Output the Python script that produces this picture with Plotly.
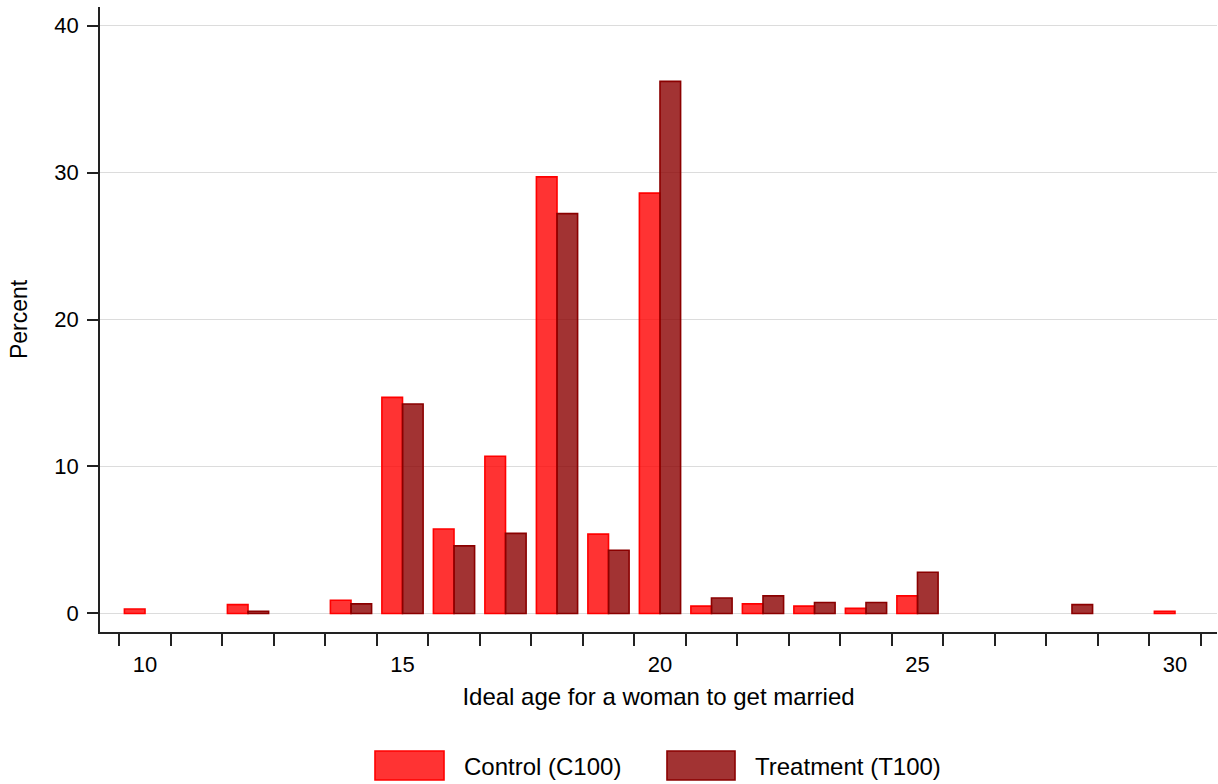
import plotly.graph_objects as go

ages = list(range(10, 31))
control = [0.3, 0, 0.6, 0, 0.9, 14.7, 5.75, 10.7, 29.7, 5.4, 28.6,
           0.5, 0.65, 0.5, 0.35, 1.2, 0, 0, 0, 0, 0.15]
treatment = [0, 0, 0.15, 0, 0.65, 14.25, 4.6, 5.45, 27.2, 4.3, 36.2,
             1.05, 1.2, 0.75, 0.75, 2.8, 0, 0, 0.6, 0, 0]
x_tick_labels = [10, 15, 20, 25, 30]
y_tick_labels = [0, 10, 20, 30, 40]
series_names = ["Control (C100)", "Treatment (T100)"]

FONT = "Liberation Sans, Arial, sans-serif"
C_FILL = "rgba(255,0,0,0.8)"
C_LINE = "#ff0000"
T_FILL = "rgba(139,0,0,0.8)"
T_LINE = "#8b0000"
AX = "#222222"

W, H = 1218, 784
L, R, T, B = 100, 1, 7, 152
PW, PH = W - L - R, H - T - B


def nonzero(vals):
    # empty bins are not drawn
    return [v if v else None for v in vals]


fig = go.Figure()
fig.add_trace(go.Bar(x=ages, y=nonzero(control), name=series_names[0], width=0.4, offset=-0.4,
                     marker=dict(color=C_FILL, line=dict(color=C_LINE, width=1.6)),
                     showlegend=False))
fig.add_trace(go.Bar(x=ages, y=nonzero(treatment), name=series_names[1], width=0.4, offset=0,
                     marker=dict(color=T_FILL, line=dict(color=T_LINE, width=1.6)),
                     showlegend=False))

half_ticks = [a - 0.5 for a in ages] + [ages[-1] + 0.5]

fig.update_layout(
    width=W, height=H,
    margin=dict(l=L, r=R, t=T, b=B),
    paper_bgcolor="white", plot_bgcolor="white",
    barmode="overlay",
    font=dict(family=FONT, color="#000000", size=22),
    xaxis=dict(
        range=[9.126, 30.816],
        tickmode="array", tickvals=x_tick_labels,
        ticks="outside", ticklen=12, tickcolor="rgba(0,0,0,0)",
        ticklabelstandoff=0,
        tickfont=dict(size=22),
        showline=True, linecolor=AX, linewidth=1.6,
        showgrid=False, zeroline=False,
        minor=dict(tickmode="array", tickvals=half_ticks, ticks="outside",
                   ticklen=12, tickwidth=1.6, tickcolor=AX, showgrid=False),
        title=dict(text="Ideal age for a woman to get married",
                   font=dict(size=24), standoff=12),
    ),
    yaxis=dict(
        range=[-1.26, 41.26],
        tickmode="array", tickvals=y_tick_labels,
        ticks="outside", ticklen=11, tickwidth=1.6, tickcolor=AX,
        ticklabelstandoff=4,
        tickfont=dict(size=22),
        showline=True, linecolor=AX, linewidth=1.6,
        showgrid=True, gridcolor="#dcdcdc", gridwidth=1.2,
        zeroline=False,
        title=dict(text="Percent", font=dict(size=23), standoff=20),
    ),
)


def px_x(px):
    return (px - L) / PW


def px_y(py):
    return (H - B - py) / PH


# manual legend
legend_items = [
    (375, 444, 462, C_FILL, C_LINE, series_names[0]),
    (667, 735, 753, T_FILL, T_LINE, series_names[1]),
]
for x0, x1, tx, fill, line, label in legend_items:
    fig.add_shape(type="rect", xref="paper", yref="paper",
                  x0=px_x(x0), x1=px_x(x1), y0=px_y(780), y1=px_y(751),
                  fillcolor=fill, line=dict(color=line, width=1.6))
    fig.add_annotation(xref="paper", yref="paper", x=px_x(tx), y=px_y(766),
                       text=label, showarrow=False, xanchor="left", yanchor="middle",
                       font=dict(size=24, family=FONT, color="#000000"))

fig.write_html("out.html")
